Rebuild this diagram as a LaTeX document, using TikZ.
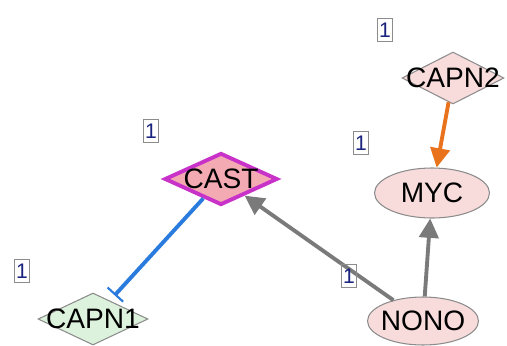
\documentclass[tikz,border=0pt]{standalone}
\usepackage{fontspec}
\setmainfont{Liberation Sans}
\usetikzlibrary{shapes.geometric,arrows.meta}
\definecolor{pinkfill}{HTML}{F8DCDC}
\definecolor{castfill}{HTML}{F4AAB2}
\definecolor{castborder}{HTML}{C832C8}
\definecolor{greenfill}{HTML}{DCF2DC}
\definecolor{nodeborder}{HTML}{8C8C8C}
\definecolor{edgegray}{HTML}{7A7A7A}
\definecolor{edgeorange}{HTML}{E8731C}
\definecolor{edgeblue}{HTML}{2A7BDE}
\definecolor{labelblue}{HTML}{1A237E}
\tikzset{
  gene/.style={draw=nodeborder, line width=0.6pt, inner sep=0pt},
  dia/.style={gene, diamond},
  ell/.style={gene, ellipse, fill=pinkfill},
  genelabel/.style={font=\fontsize{16}{19}\selectfont, text=black, inner sep=0pt},
  cnt/.style={draw=nodeborder, fill=white, line width=0.7pt, minimum width=0.29cm, minimum height=0.47cm, inner sep=0pt, text=labelblue, font=\fontsize{12}{14}\selectfont},
  lnk/.style={line width=2.2pt},
  act/.style={-{Triangle[length=11pt,width=11pt]}},
  inh/.style={-{Bar[width=12pt,line width=1.2pt]}}
}
\begin{document}
\begin{tikzpicture}[x=0.02cm,y=-0.02cm]
\useasboundingbox[fill=white] (0,0) rectangle (507,345);
% nodes
\node[dia, fill=pinkfill, minimum width=2.04cm, minimum height=1.04cm] (capn2) at (453,78) {};
\node[genelabel] at (capn2) {CAPN2};
\node[dia, fill=castfill, draw=castborder, line width=2.2pt, minimum width=2.26cm, minimum height=1.04cm] (cast) at (221,179) {};
\node[genelabel] at (cast) {CAST};
\node[dia, fill=greenfill, minimum width=2.2cm, minimum height=1.04cm] (capn1) at (93,319) {};
\node[genelabel] at (capn1) {CAPN1};
\node[ell, minimum width=2.3cm, minimum height=1.0cm] (myc) at (432,193) {};
\node[genelabel] at (myc) {MYC};
\node[ell, minimum width=2.22cm, minimum height=0.96cm] (nono) at (423,321) {};
\node[genelabel] at (nono) {NONO};
% edges
\draw[lnk, draw=edgeorange, act, fill=edgeorange] (capn2) -- (myc);
\draw[lnk, draw=edgegray, act] (nono) -- (myc);
\draw[lnk, draw=edgegray, act] (nono) -- (cast);
\draw[lnk, draw=edgeblue, inh, shorten >=4pt] (cast) -- (capn1);
% count labels
\node[cnt] (c1) at (385,30) {1};
\node[cnt] (c2) at (151,131) {1};
\node[cnt] (c3) at (361,143) {1};
\node[cnt] (c4) at (22,271) {1};
\node[cnt, fill=none] (c5) at (349,276) {1};
\end{tikzpicture}
\end{document}
